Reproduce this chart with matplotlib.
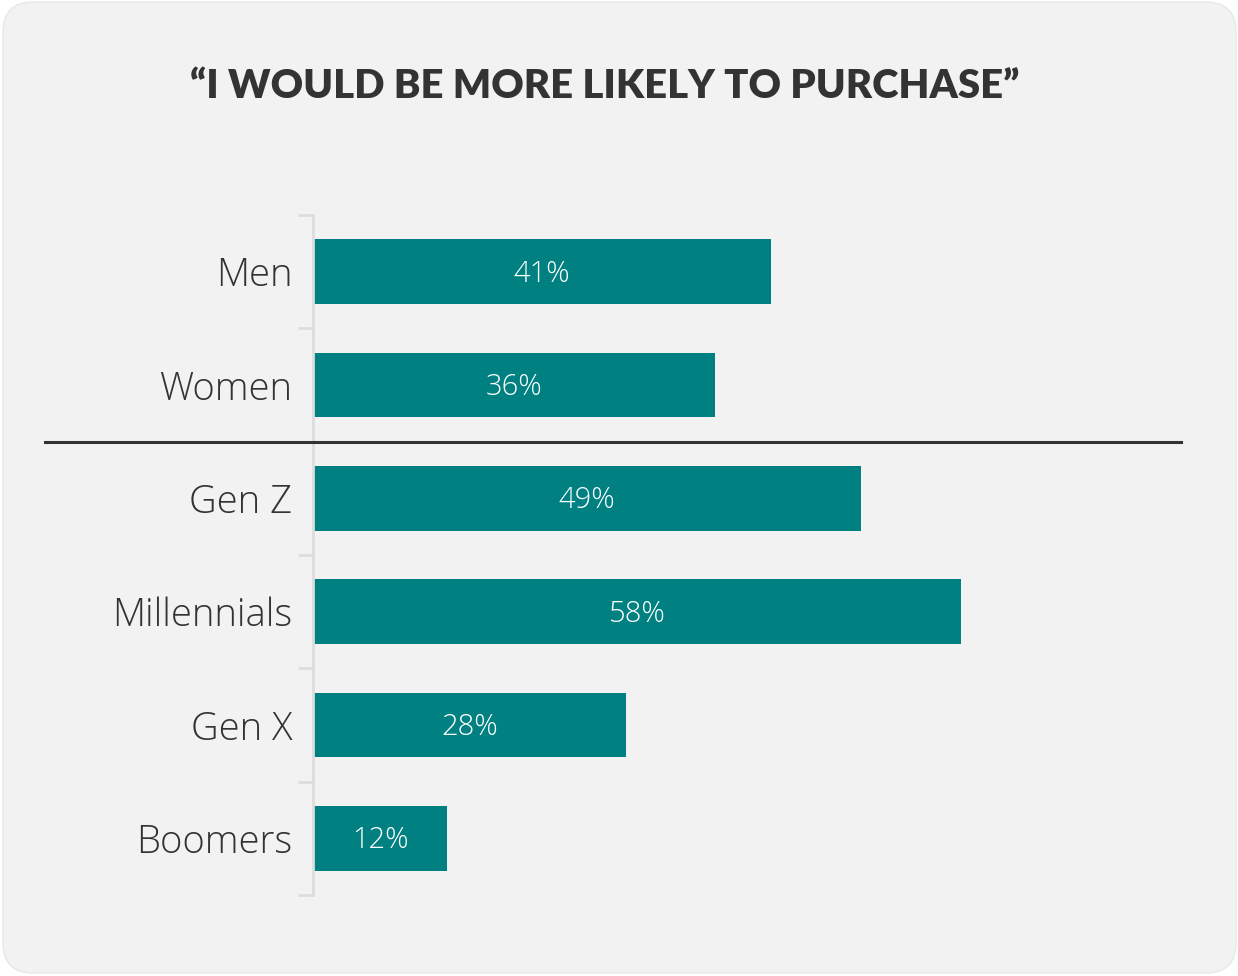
import matplotlib.pyplot as plt
from matplotlib.patches import FancyBboxPatch
from matplotlib.lines import Line2D

# Data
groups = ["Men", "Women", "Gen Z", "Millennials", "Gen X", "Boomers"]
shares = [41, 36, 49, 58, 28, 12]

W, H = 1238, 976
fig = plt.figure(figsize=(W / 100, H / 100), dpi=100)
fig.patch.set_facecolor("white")

# rounded card behind everything, drawn in pixel units
bg = fig.add_axes([0, 0, 1, 1], zorder=-5)
bg.set_xlim(0, W)
bg.set_ylim(H, 0)
bg.axis("off")
bg.add_patch(FancyBboxPatch((3, 2), 1233, 971,
                            boxstyle="round,pad=0,rounding_size=30",
                            facecolor="#f2f2f2", edgecolor="#e8e8e8", linewidth=1))

ax = fig.add_axes([313 / W, 1 - 895 / H, (1181 - 313) / W, 680 / H])
ax.set_facecolor("none")

ypos = list(range(len(groups)))
bars = ax.barh(ypos, shares, height=0.57, color="#008080", zorder=2)

ax.set_ylim(len(groups) - 0.5, -0.5)
ax.set_xlim(0, (1181 - 313) / 11.18)

for bar, v in zip(bars, shares):
    ax.text(bar.get_width() / 2, bar.get_y() + bar.get_height() / 2 + 0.02, f"{v}%",
            ha="center", va="center", color="white", fontsize=21,
            family="Open Sans", fontweight="light")

# category labels, ticks sit on the boundaries between bars
ax.set_yticks(ypos)
ax.set_yticklabels(groups, family="Open Sans", fontweight="light", fontsize=27.5,
                   color="#333333")
ax.set_yticks([i - 0.5 for i in range(len(groups) + 1)], minor=True)
ax.tick_params(axis="y", which="major", length=0, pad=15)
ax.tick_params(axis="y", which="minor", length=11, width=2, color="#dddddd")
ax.set_xticks([])

for s in ["top", "right", "bottom"]:
    ax.spines[s].set_visible(False)
ax.spines["left"].set_color("#dddddd")
ax.spines["left"].set_linewidth(2)

# divider between gender and generation groups
fig.add_artist(Line2D([45 / W, 1181 / W], [1 - 441.5 / H] * 2, transform=fig.transFigure,
                      color="#333333", linewidth=2.2, zorder=10))
bg.text(605, 87, "\u201cI WOULD BE MORE LIKELY TO PURCHASE\u201d",
        ha="center", va="center", fontsize=28.8, fontweight="heavy",
        family="Lato", color="#333333")

fig.savefig("out.png", dpi=100)
